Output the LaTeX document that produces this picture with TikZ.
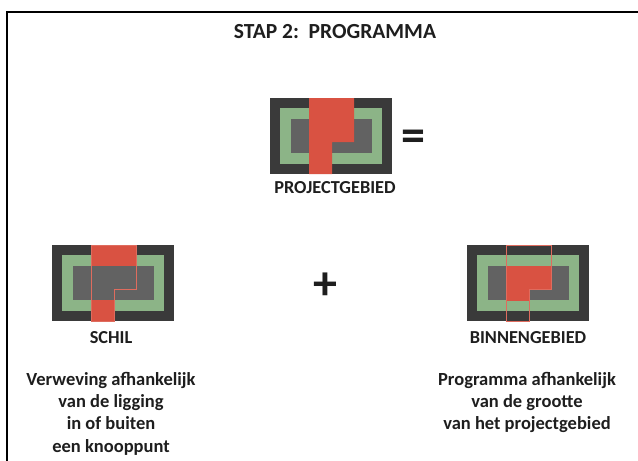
\documentclass[tikz,border=0pt]{standalone}
\usepackage{fontspec}
\setmainfont{Carlito}

\definecolor{donker}{RGB}{58,58,58}
\definecolor{groen}{RGB}{140,180,135}
\definecolor{kern}{RGB}{98,98,98}
\definecolor{rood}{RGB}{217,82,66}
\definecolor{letter}{RGB}{30,30,30}

% the red plot, relative to the top left corner of a block
\newcommand{\rodevorm}{(39,0) -- (84,0) -- (84,44) -- (62,44) -- (62,76) -- (39,76) -- cycle}
% dark border, green ring and grey core of a block
\newcommand{\ondergrond}{%
  \fill[donker] (0,0) rectangle (122,76);
  \fill[groen] (10,10) rectangle (112,66);
  \fill[kern] (21,21) rectangle (102,55);}

\begin{document}
\begin{tikzpicture}[
		x=1pt, y=-1pt,
		every node/.style={text=letter},
		kop/.style={font=\bfseries\fontsize{21.5}{24}\selectfont, inner sep=0pt},
		naam/.style={font=\bfseries\fontsize{18.3}{21}\selectfont, inner sep=0pt},
		uitleg/.style={font=\bfseries\fontsize{18.5}{22.3}\selectfont, align=center, inner sep=0pt, anchor=north},
		teken/.style={font=\bfseries\fontsize{48}{48}\selectfont, inner sep=0pt},
		rand/.style={draw=rood!85!white, line width=1pt}
	]
  \useasboundingbox (0,0) rectangle (638,461);
  \fill[white] (0,0) rectangle (638,461);
  \draw[line width=2pt] (7,461) -- (7,12) -- (638,12);

  % projectgebied
  \begin{scope}[shift={(270,98)}]
    \ondergrond
    \fill[rood] \rodevorm;
  \end{scope}

  % schil: red only outside the core
  \begin{scope}[shift={(52,245)}]
    \ondergrond
    \fill[rood] \rodevorm;
    \fill[kern] (21,21) rectangle (102,55);
    \draw[rand] \rodevorm;
  \end{scope}

  % binnengebied: red only inside the core
  \begin{scope}[shift={(467,245)}]
    \ondergrond
    \begin{scope}
      \clip (21,21) rectangle (102,55);
      \fill[rood] \rodevorm;
    \end{scope}
    \draw[rand] \rodevorm;
  \end{scope}

  \node[kop] (titel) at (335,32) {STAP 2:\ \ PROGRAMMA};
  \node[naam] (projectgebied) at (335,188) {PROJECTGEBIED};
  \node[teken] (gelijk) at (413,141) {=};
  \node[teken] (plus) at (325,286) {+};
  \node[naam] (schil) at (111,338) {SCHIL};
  \node[naam] (binnengebied) at (528,338) {BINNENGEBIED};
  \node[uitleg] (uitlegschil) at (111,372) {Verweving afhankelijk\\van de ligging\\in of buiten\\een knooppunt};
  \node[uitleg] (uitlegbinnen) at (527,372) {Programma afhankelijk\\van de grootte\\van het projectgebied};
\end{tikzpicture}
\end{document}
